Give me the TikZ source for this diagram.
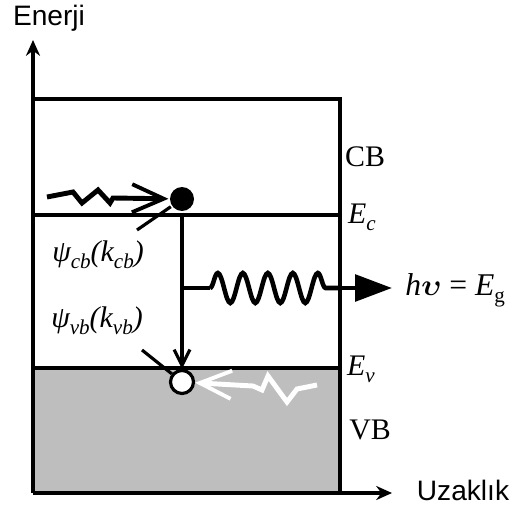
\documentclass[tikz,border=0pt]{standalone}
\usepackage{fontspec}
\setmainfont{Liberation Serif}
\newfontfamily\axisfont{Liberation Sans}
\usepackage{amsmath}
\usepackage{bm}
\usepackage{tikz}
\usetikzlibrary{positioning}
\usetikzlibrary{arrows.meta}
\usetikzlibrary{decorations.pathmorphing}
\definecolor{vbgray}{RGB}{190,190,190}
\newcommand{\lowsub}[1]{\raisebox{-0.5ex}{\fontsize{12}{12}\selectfont #1}}

\begin{document}
\begin{tikzpicture}[x=0.02cm,y=-0.02cm,line width=1.8pt,
  lbl/.style={font=\fontsize{17}{20}\selectfont\itshape},
  band/.style={font=\fontsize{17}{20}\selectfont},
  zig/.style={line width=2.8pt,-{Straight Barb[length=18pt,width=16pt,line width=2.2pt]}}]
\useasboundingbox (0,0) rectangle (509,506);
% bands
\fill[vbgray] (33,368) rectangle (340,493);
\draw (33,99) rectangle (340,215);
\draw (33,215) rectangle (340,368);
\draw (340,368) -- (340,493);

% axes
\coordinate (o) at (33,493);
\coordinate (ytop) at (33,40);
\coordinate (xend) at (392,493);
\draw[line width=2pt,-{Stealth[length=9pt,width=8pt]}] (o) -- (ytop);
\draw[line width=2pt,-{Stealth[length=9pt,width=8pt]}] (o) -- (xend);
\node[font=\axisfont\fontsize{16}{19}\selectfont] (enerji) at (49,18) {Enerji};
\node[font=\axisfont\fontsize{16}{19}\selectfont] (uzak) at (463,490) {Uzaklık};

% carriers
\node[circle,fill=black,inner sep=0pt,minimum size=0.48cm] (e) at (182,199) {};
\node[circle,draw=black,fill=white,line width=1.8pt,inner sep=0pt,minimum size=0.46cm] (h) at (182,382) {};

% labels
\node[band] (cb) at (365,157) {CB};
\node[band] (vb) at (370,430) {VB};
\node[lbl] (ec) at (362,217) {E\lowsub{c}};
\node[lbl] (ev) at (361,369) {E\lowsub{v}};
\node[lbl] (psicb) at (98,255) {ψ\lowsub{cb}(k\lowsub{cb})};
\node[lbl] (psivb) at (97,321) {ψ\lowsub{vb}(k\lowsub{vb})};
\node[font=\fontsize{18}{21}\selectfont,anchor=west] (hv) at (398,290) {\textit{h}$\bm{\upsilon}$ = \textit{E}\lowsub{g}};

% transition and pointers
\draw[-{Straight Barb[length=9pt,width=9pt]}] (e) -- (h);
\coordinate (pe) at (137,230);
\coordinate (ph) at (142,350);
\draw (pe) -- (e);
\draw (ph) -- (h);

% phonons
\draw[zig] (47,197) -- (73,192) -- (82,203) -- (98,190) -- (110,203) -- (113,198) -- (e);
\draw[zig,white] (317,385) -- (297,389) -- (287,402) -- (268,376) -- (262,390) -- (253,386) -- (h);

% photon
\coordinate (ph0) at (182,288);
\coordinate (ph1) at (210,288);
\coordinate (ph2) at (338,288);
\coordinate (ph3) at (392,288);
\draw[line width=2.6pt] (ph0) -- (ph1);
\draw[line width=2.6pt,decorate,decoration={snake,amplitude=0.3cm,segment length=0.5cm}] (ph1) -- (ph2);
\draw[line width=2.6pt,-{Triangle[length=21pt,width=15pt]}] (ph2) -- (ph3);
\end{tikzpicture}
\end{document}
